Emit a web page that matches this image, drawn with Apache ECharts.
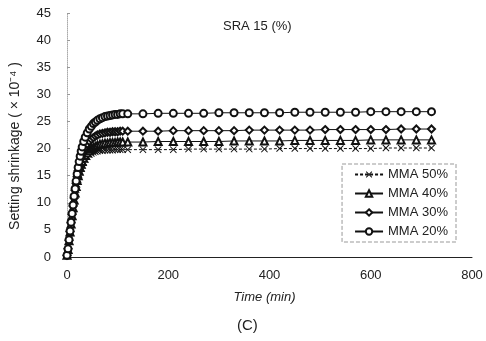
<!DOCTYPE html>
<html>
<head>
<meta charset="utf-8">
<script src="https://cdn.jsdelivr.net/npm/echarts@6/dist/echarts.min.js"></script>
<style>
  html, body { margin: 0; padding: 0; background: #fff; }
  #chart { width: 486px; height: 341px; }
</style>
</head>
<body>
<div id="chart"></div>
<script>
// time (min)
const times = [0, 2, 4, 6, 8, 10, 12, 14, 16, 18, 20, 22, 24, 26, 28, 30, 33, 36, 40, 44, 48, 52, 56, 60,
  65, 70, 75, 80, 85, 90, 95, 100, 105, 110,
  120, 150, 180, 210, 240, 270, 300, 330, 360, 390, 420, 450, 480, 510, 540, 570, 600, 630, 660, 690, 720];

// shrinkage (x10^-4)
const mma50 = [0.3, 1.4, 2.9, 4.4, 5.9, 7.4, 8.8, 10.1, 11.3, 12.4, 13.4, 14.3, 15.1, 15.8, 16.4, 16.9, 17.5, 18.0, 18.5, 18.9, 19.1, 19.3, 19.4, 19.5,
  19.6, 19.6, 19.7, 19.7, 19.7, 19.7, 19.8, 19.8, 19.8, 19.8,
  19.8, 19.8, 19.8, 19.8, 19.9, 19.9, 19.9, 19.9, 19.9, 19.9, 20.0, 20.0, 20.0, 20.0, 20.0, 20.0, 20.0, 20.1, 20.1, 20.1, 20.1];
const mma40 = [0.3, 1.4, 3.0, 4.6, 6.1, 7.6, 9.1, 10.5, 11.8, 13.0, 14.1, 15.0, 15.8, 16.5, 17.1, 17.6, 18.2, 18.7, 19.2, 19.6, 19.9, 20.2, 20.4, 20.6,
  20.8, 20.9, 21.0, 21.0, 21.1, 21.1, 21.1, 21.2, 21.2, 21.2,
  21.2, 21.2, 21.3, 21.3, 21.3, 21.3, 21.3, 21.4, 21.4, 21.4, 21.4, 21.5, 21.5, 21.5, 21.5, 21.5, 21.6, 21.6, 21.6, 21.6, 21.6];
const mma30 = [0.3, 1.5, 3.1, 4.7, 6.3, 7.9, 9.4, 10.9, 12.3, 13.6, 14.8, 15.9, 16.8, 17.6, 18.3, 18.9, 19.6, 20.2, 20.8, 21.3, 21.7, 22.0, 22.3, 22.5,
  22.7, 22.8, 22.9, 23.0, 23.0, 23.1, 23.1, 23.1, 23.2, 23.2,
  23.2, 23.2, 23.2, 23.3, 23.3, 23.3, 23.3, 23.3, 23.4, 23.4, 23.4, 23.4, 23.4, 23.5, 23.5, 23.5, 23.5, 23.5, 23.6, 23.6, 23.6];
const mma20 = [0.3, 1.5, 3.2, 4.8, 6.4, 8.0, 9.6, 11.2, 12.6, 14.0, 15.3, 16.5, 17.6, 18.6, 19.5, 20.3, 21.3, 22.1, 22.9, 23.6, 24.1, 24.6, 24.9, 25.2,
  25.5, 25.7, 25.9, 26.0, 26.1, 26.2, 26.3, 26.3, 26.4, 26.4,
  26.4, 26.4, 26.5, 26.5, 26.5, 26.5, 26.6, 26.6, 26.6, 26.6, 26.6, 26.7, 26.7, 26.7, 26.7, 26.7, 26.8, 26.8, 26.8, 26.8, 26.8];

// filled "x" shape so it shows as a marker
const crossPath = "path://M0,1L1,0L5,4L9,0L10,1L6,5L10,9L9,10L5,6L1,10L0,9L4,5Z";
const font = "Liberation Sans";

const pair = (vals) => times.map((t, i) => [t, vals[i]]);

function makeSeries(name, vals, symbol, dashed) {
  return {
    name: name,
    type: "line",
    data: pair(vals),
    symbol: symbol,
    symbolSize: 7,
    showAllSymbol: true,
    lineStyle: { color: "#111", width: 1, type: dashed ? [3, 2] : "solid" },
    itemStyle: { color: "#111", borderWidth: 1 },
    animation: false,
  };
}

const chart = echarts.init(document.getElementById("chart"));
chart.setOption({
  backgroundColor: "#fff",
  textStyle: { fontFamily: font },
  grid: { left: 67, right: 14, top: 13, bottom: 84 },
  title: [
    {
      text: "SRA 15 (%)",
      left: 218, top: 15,
      textStyle: { fontSize: 13, fontWeight: "normal", color: "#222", fontFamily: font },
    },
    {
      text: "(C)",
      left: 232, top: 313,
      textStyle: { fontSize: 15, fontWeight: "normal", color: "#222", fontFamily: font },
    },
  ],
  graphic: [
    {
      type: "text",
      x: 15, y: 146,
      rotation: Math.PI / 2,
      style: {
        text: "Setting shrinkage ( \u00d7 10\u207b\u2074 )",
        font: "14px " + font,
        fill: "#222",
        align: "center",
        verticalAlign: "middle",
      },
    },
  ],
  legend: {
    orient: "vertical",
    right: 30, top: 164,
    itemWidth: 28, itemHeight: 8, itemGap: 6,
    padding: [4, 8, 4, 12],
    borderColor: "#999", borderWidth: 1, borderType: "dashed",
    backgroundColor: "#fff",
    textStyle: { fontSize: 13, color: "#222", fontFamily: font },
    data: ["MMA 50%", "MMA 40%", "MMA 30%", "MMA 20%"],
  },
  xAxis: {
    type: "value",
    min: 0, max: 800, interval: 200,
    name: "Time (min)",
    nameLocation: "middle",
    nameGap: 34,
    nameTextStyle: { fontSize: 13, fontStyle: "italic", color: "#222", padding: [0, 10, 0, 0] },
    axisLine: { lineStyle: { color: "#222", width: 1 } },
    axisTick: { show: false },
    axisLabel: { fontSize: 13, color: "#222", margin: 12 },
    splitLine: { show: false },
  },
  yAxis: {
    type: "value",
    min: 0, max: 45, interval: 5,
    axisLine: { show: true, lineStyle: { color: "#aaa", width: 1, type: "dotted" } },
    axisTick: { show: true, inside: true, length: 3, lineStyle: { color: "#999" } },
    axisLabel: { fontSize: 13, color: "#222", margin: 16 },
    splitLine: { show: false },
  },
  series: [
    makeSeries("MMA 50%", mma50, crossPath, true),
    makeSeries("MMA 40%", mma40, "emptyTriangle", false),
    makeSeries("MMA 30%", mma30, "emptyDiamond", false),
    makeSeries("MMA 20%", mma20, "emptyCircle", false),
  ],
});
</script>
</body>
</html>
